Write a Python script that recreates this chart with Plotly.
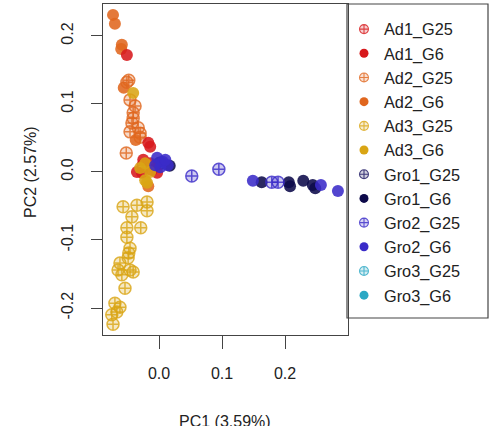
import plotly.graph_objects as go

# ---- data ----
groups = ["Ad1_G25", "Ad1_G6", "Ad2_G25", "Ad2_G6", "Ad3_G25", "Ad3_G6",
          "Gro1_G25", "Gro1_G6", "Gro2_G25", "Gro2_G6", "Gro3_G25", "Gro3_G6"]
colors = ["#D7191C", "#D7191C", "#E0661E", "#E0661E", "#D9A514", "#D9A514",
          "#1A1460", "#0D0A4A", "#3A2BC8", "#3A2BC8", "#2BA8C4", "#2BA8C4"]

ad1_g25_x = [-0.025]
ad1_g25_y = [0.010]
ad1_g6_x = [-0.051, -0.017, -0.014, -0.025, -0.035, -0.027, -0.003, -0.011, -0.014]
ad1_g6_y = [0.172, 0.043, 0.037, 0.018, 0.000, -0.001, -0.001, 0.003, 0.013]
ad2_g25_x = [-0.048, -0.051, -0.046, -0.038, -0.041, -0.041, -0.043, -0.033, -0.046,
             -0.030, -0.030, -0.052]
ad2_g25_y = [0.135, 0.132, 0.106, 0.097, 0.087, 0.079, 0.072, 0.065, 0.059,
             0.051, 0.057, 0.028]
ad2_g6_x = [-0.073, -0.070, -0.059, -0.060, -0.056, -0.017, -0.037]
ad2_g6_y = [0.231, 0.218, 0.187, 0.181, 0.124, -0.021, 0.047]
ad3_g25_x = [-0.057, -0.035, -0.019, -0.019, -0.043, -0.051, -0.029, -0.051, -0.046,
             -0.048, -0.049, -0.062, -0.065, -0.046, -0.059, -0.041, -0.054, -0.070,
             -0.062, -0.067, -0.075, -0.073]
ad3_g25_y = [-0.051, -0.049, -0.044, -0.057, -0.066, -0.082, -0.082, -0.096, -0.112,
             -0.119, -0.126, -0.134, -0.144, -0.144, -0.151, -0.147, -0.171, -0.193,
             -0.199, -0.206, -0.210, -0.224]
ad3_g6_x = [-0.041, -0.022, -0.022, -0.019, -0.014, -0.030]
ad3_g6_y = [0.116, 0.013, -0.012, -0.016, 0.000, 0.006]
gro1_g25_x = [0.002]
gro1_g25_y = [0.013]
gro1_g6_x = [0.163, 0.206, 0.208, 0.229, 0.244, 0.248, 0.017]
gro1_g6_y = [-0.015, -0.015, -0.021, -0.013, -0.019, -0.024, 0.009]
gro2_g25_x = [0.052, 0.095, 0.179, 0.189]
gro2_g25_y = [-0.006, 0.004, -0.015, -0.015]
gro2_g6_x = [-0.003, 0.006, 0.014, 0.002, -0.006, 0.149, 0.257, 0.284, 0.010]
gro2_g6_y = [0.021, 0.015, 0.010, 0.007, 0.010, -0.013, -0.019, -0.028, 0.018]
gro3_g25_x = [0.000]
gro3_g25_y = [0.012]
gro3_g6_x = [0.001]
gro3_g6_y = [0.014]

xs = [ad1_g25_x, ad1_g6_x, ad2_g25_x, ad2_g6_x, ad3_g25_x, ad3_g6_x,
      gro1_g25_x, gro1_g6_x, gro2_g25_x, gro2_g6_x, gro3_g25_x, gro3_g6_x]
ys = [ad1_g25_y, ad1_g6_y, ad2_g25_y, ad2_g6_y, ad3_g25_y, ad3_g6_y,
      gro1_g25_y, gro1_g6_y, gro2_g25_y, gro2_g6_y, gro3_g25_y, gro3_g6_y]

x_ticks = [0.0, 0.1, 0.2]
x_tick_labels = ["0.0", "0.1", "0.2"]
y_ticks = [-0.2, -0.1, 0.0, 0.1, 0.2]
y_tick_labels = ["-0.2", "-0.1", "0.0", "0.1", "0.2"]

# drawing order (bottom to top)
draw_order = [10, 11, 6, 0, 2, 3, 4, 1, 5, 7, 8, 9]

FONT = "Liberation Sans, Arial, sans-serif"


def tint(hex_color, a):
    h = hex_color.lstrip("#")
    r, g, b = int(h[0:2], 16), int(h[2:4], 16), int(h[4:6], 16)
    return f"rgba({r},{g},{b},{a})"


fig = go.Figure()
for i in draw_order:
    g = groups[i]
    open_sym = g.endswith("G25")
    fig.add_trace(go.Scatter(
        x=xs[i], y=ys[i], mode="markers", name=g, showlegend=False,
        marker=dict(
            symbol="circle-cross" if open_sym else "circle",
            size=12,
            color=tint(colors[i], 0.25) if open_sym else tint(colors[i], 0.88),
            line=dict(width=1.5 if open_sym else 0, color=tint(colors[i], 0.8)),
        ),
    ))

# legend entries (smaller symbols, in legend order)
for i, g in enumerate(groups):
    open_sym = g.endswith("G25")
    fig.add_trace(go.Scatter(
        x=[None], y=[None], mode="markers", name=g, legendgroup=g,
        legendrank=i + 1, showlegend=True,
        marker=dict(
            symbol="circle-cross" if open_sym else "circle",
            size=9,
            color=tint(colors[i], 0.2) if open_sym else colors[i],
            line=dict(width=1.1 if open_sym else 0, color=tint(colors[i], 0.8)),
        ),
    ))

L, R, T, B = 103, 148, 4, 91
W, H = 496, 426
pw, ph = W - L - R, H - T - B


def px_x(p):
    return (p - L) / pw


def px_y(p):
    return (H - B - p) / ph


axis_font = dict(family=FONT, size=16, color="#222")

fig.update_layout(
    width=W, height=H,
    margin=dict(l=L, r=R, t=T, b=B),
    paper_bgcolor="white", plot_bgcolor="white",
    showlegend=True,
    font=axis_font,
    legend=dict(
        x=px_x(344), xanchor="left", y=px_y(12), yanchor="top",
        bgcolor="rgba(0,0,0,0)", borderwidth=0,
        font=dict(family=FONT, size=16.3, color="#222"),
        tracegroupgap=0, itemsizing="trace",
    ),
    xaxis=dict(
        range=[-0.0889, 0.30], tickvals=x_ticks, ticktext=x_tick_labels,
        showgrid=False, zeroline=False, showline=True, mirror=True,
        linecolor="#444", linewidth=1.2, ticks="outside", ticklen=13,
        tickcolor="#444", tickwidth=1.2, tickfont=axis_font,
        ticklabelstandoff=11,
    ),
    yaxis=dict(
        range=[-0.2397, 0.247], tickvals=y_ticks, ticktext=y_tick_labels,
        showgrid=False, zeroline=False, showline=True, mirror=True,
        linecolor="#444", linewidth=1.2, ticks="outside", ticklen=11,
        tickcolor="#444", tickwidth=1.2, tickangle=-90, tickfont=axis_font,
        ticklabelstandoff=12,
    ),
    shapes=[dict(
        type="rect", xref="paper", yref="paper",
        x0=px_x(347), x1=px_x(488), y0=px_y(318), y1=px_y(4),
        line=dict(color="#444", width=1.2), fillcolor="rgba(0,0,0,0)",
    )],
    annotations=[
        dict(text="PC1 (3.59%)", xref="paper", yref="paper",
             x=px_x(225), y=px_y(421), xanchor="center", yanchor="middle",
             showarrow=False, font=dict(family=FONT, size=16, color="#222")),
        dict(text="PC2 (2.57%)", xref="paper", yref="paper",
             x=px_x(30), y=px_y(172), xanchor="center", yanchor="middle",
             textangle=-90, showarrow=False,
             font=dict(family=FONT, size=16, color="#222")),
    ],
)

fig.write_html("out.html")
